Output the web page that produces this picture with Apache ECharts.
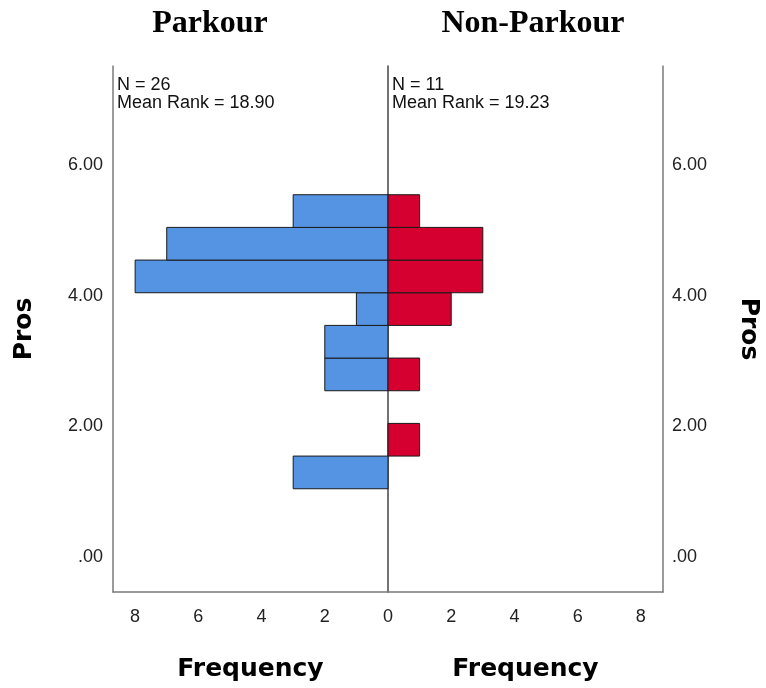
<!DOCTYPE html>
<html>
<head>
<meta charset="utf-8">
<script src="https://cdn.jsdelivr.net/npm/echarts@6.0.0/dist/echarts.min.js"></script>
<style>html,body{margin:0;padding:0;background:#fff;}#chart{width:766px;height:688px;}</style>
</head>
<body>
<div id="chart"></div>
<script>
// Data
const binLower = [1.0, 1.5, 2.5, 3.0, 3.5, 4.0, 4.5, 5.0];
const binWidth = 0.5;
const parkourCounts = [3, 0, 2, 2, 1, 8, 7, 3];
const nonParkourCounts = [0, 1, 1, 0, 2, 3, 3, 1];
const groupNames = ['Parkour', 'Non-Parkour'];
const groupStats = ['N = 26\nMean Rank = 18.90', 'N = 11\nMean Rank = 19.23'];
const yTicks = [0, 2, 4, 6];
const xTicksLeft = [0, 2, 4, 6, 8];
const xTicksRight = [2, 4, 6, 8];

function toData(counts) {
  const out = [];
  counts.forEach((c, i) => { if (c > 0) out.push([binLower[i], binLower[i] + binWidth, c]); });
  return out;
}

const chart = echarts.init(document.getElementById('chart'), null, {renderer: 'canvas'});
const tickFont = {fontFamily: 'Liberation Sans, Arial, sans-serif', fontSize: 18, color: '#222'};
const frameLine = {show: true, onZero: false, lineStyle: {color: '#7a7a7a', width: 1.5}};
const yFmt = v => (v === 0 ? '.00' : v.toFixed(2));
const nameStyle = {fontFamily: 'DejaVu Sans, sans-serif', fontWeight: 'bold', fontSize: 25, color: '#000'};

function renderBar(params, api) {
  const lo = api.value(0), hi = api.value(1), c = api.value(2);
  const p1 = api.coord([0, hi]);
  const p2 = api.coord([c, lo]);
  const x = Math.min(p1[0], p2[0]), y = Math.min(p1[1], p2[1]);
  return {
    type: 'rect',
    shape: {x: x, y: y, width: Math.abs(p2[0] - p1[0]), height: Math.abs(p2[1] - p1[1])},
    style: api.style()
  };
}

const option = {
  animation: false,
  backgroundColor: '#fff',
  grid: [
    {left: 113, width: 275, top: 66, height: 526},
    {left: 388, width: 275, top: 66, height: 526}
  ],
  xAxis: [
    {gridIndex: 0, type: 'value', inverse: true, min: 0, max: 8.7,
     axisLine: frameLine, axisTick: {show: false}, splitLine: {show: false},
     axisLabel: Object.assign({customValues: xTicksLeft, margin: 16}, tickFont),
     name: 'Frequency', nameLocation: 'middle', nameGap: 65, nameTextStyle: nameStyle},
    {gridIndex: 1, type: 'value', min: 0, max: 8.7,
     axisLine: frameLine, axisTick: {show: false}, splitLine: {show: false},
     axisLabel: Object.assign({customValues: xTicksRight, margin: 16}, tickFont),
     name: 'Frequency', nameLocation: 'middle', nameGap: 65, nameTextStyle: nameStyle}
  ],
  yAxis: [
    {gridIndex: 0, type: 'value', position: 'left', min: -0.58, max: 7.47,
     axisLine: frameLine, axisTick: {show: false}, splitLine: {show: false},
     axisLabel: Object.assign({customValues: yTicks, formatter: yFmt, margin: 10, verticalAlign: 'top', lineHeight: 6}, tickFont),
     name: 'Pros', nameLocation: 'middle', nameRotate: 90, nameGap: 76, nameTextStyle: nameStyle},
    {gridIndex: 1, type: 'value', position: 'right', min: -0.58, max: 7.47,
     axisLine: frameLine, axisTick: {show: false}, splitLine: {show: false},
     axisLabel: Object.assign({customValues: yTicks, formatter: yFmt, margin: 9, verticalAlign: 'top', lineHeight: 6}, tickFont),
     name: 'Pros', nameLocation: 'middle', nameRotate: -90, nameGap: 73, nameTextStyle: nameStyle},
    {gridIndex: 1, type: 'value', position: 'left', min: -0.58, max: 7.47,
     axisLine: {show: true, onZero: false, lineStyle: {color: '#444', width: 1.5}},
     axisTick: {show: false}, splitLine: {show: false}, axisLabel: {show: false}}
  ],
  series: [
    {type: 'custom', xAxisIndex: 0, yAxisIndex: 0, renderItem: renderBar, z: 1,
     itemStyle: {color: '#5594e2', borderColor: '#1a1a1a', borderWidth: 1},
     encode: {x: 2, y: [0, 1]}, data: toData(parkourCounts)},
    {type: 'custom', xAxisIndex: 1, yAxisIndex: 1, renderItem: renderBar, z: 1,
     itemStyle: {color: '#d5002f', borderColor: '#1a1a1a', borderWidth: 1},
     encode: {x: 2, y: [0, 1]}, data: toData(nonParkourCounts)}
  ],
  graphic: [
    {type: 'text', x: 210, y: 24, style: {text: groupNames[0], fontFamily: 'Liberation Serif, Times New Roman, serif', fontWeight: 'bold', fontSize: 32, fill: '#000', align: 'center', verticalAlign: 'middle'}},
    {type: 'text', x: 533, y: 24, style: {text: groupNames[1], fontFamily: 'Liberation Serif, Times New Roman, serif', fontWeight: 'bold', fontSize: 32, fill: '#000', align: 'center', verticalAlign: 'middle'}},
    {type: 'text', x: 117, y: 76, style: {text: groupStats[0], fontFamily: 'Liberation Sans, Arial, sans-serif', fontSize: 18, lineHeight: 18, fill: '#111', align: 'left', verticalAlign: 'top'}},
    {type: 'text', x: 392, y: 76, style: {text: groupStats[1], fontFamily: 'Liberation Sans, Arial, sans-serif', fontSize: 18, lineHeight: 18, fill: '#111', align: 'left', verticalAlign: 'top'}}
  ]
};
chart.setOption(option);
</script>
</body>
</html>
